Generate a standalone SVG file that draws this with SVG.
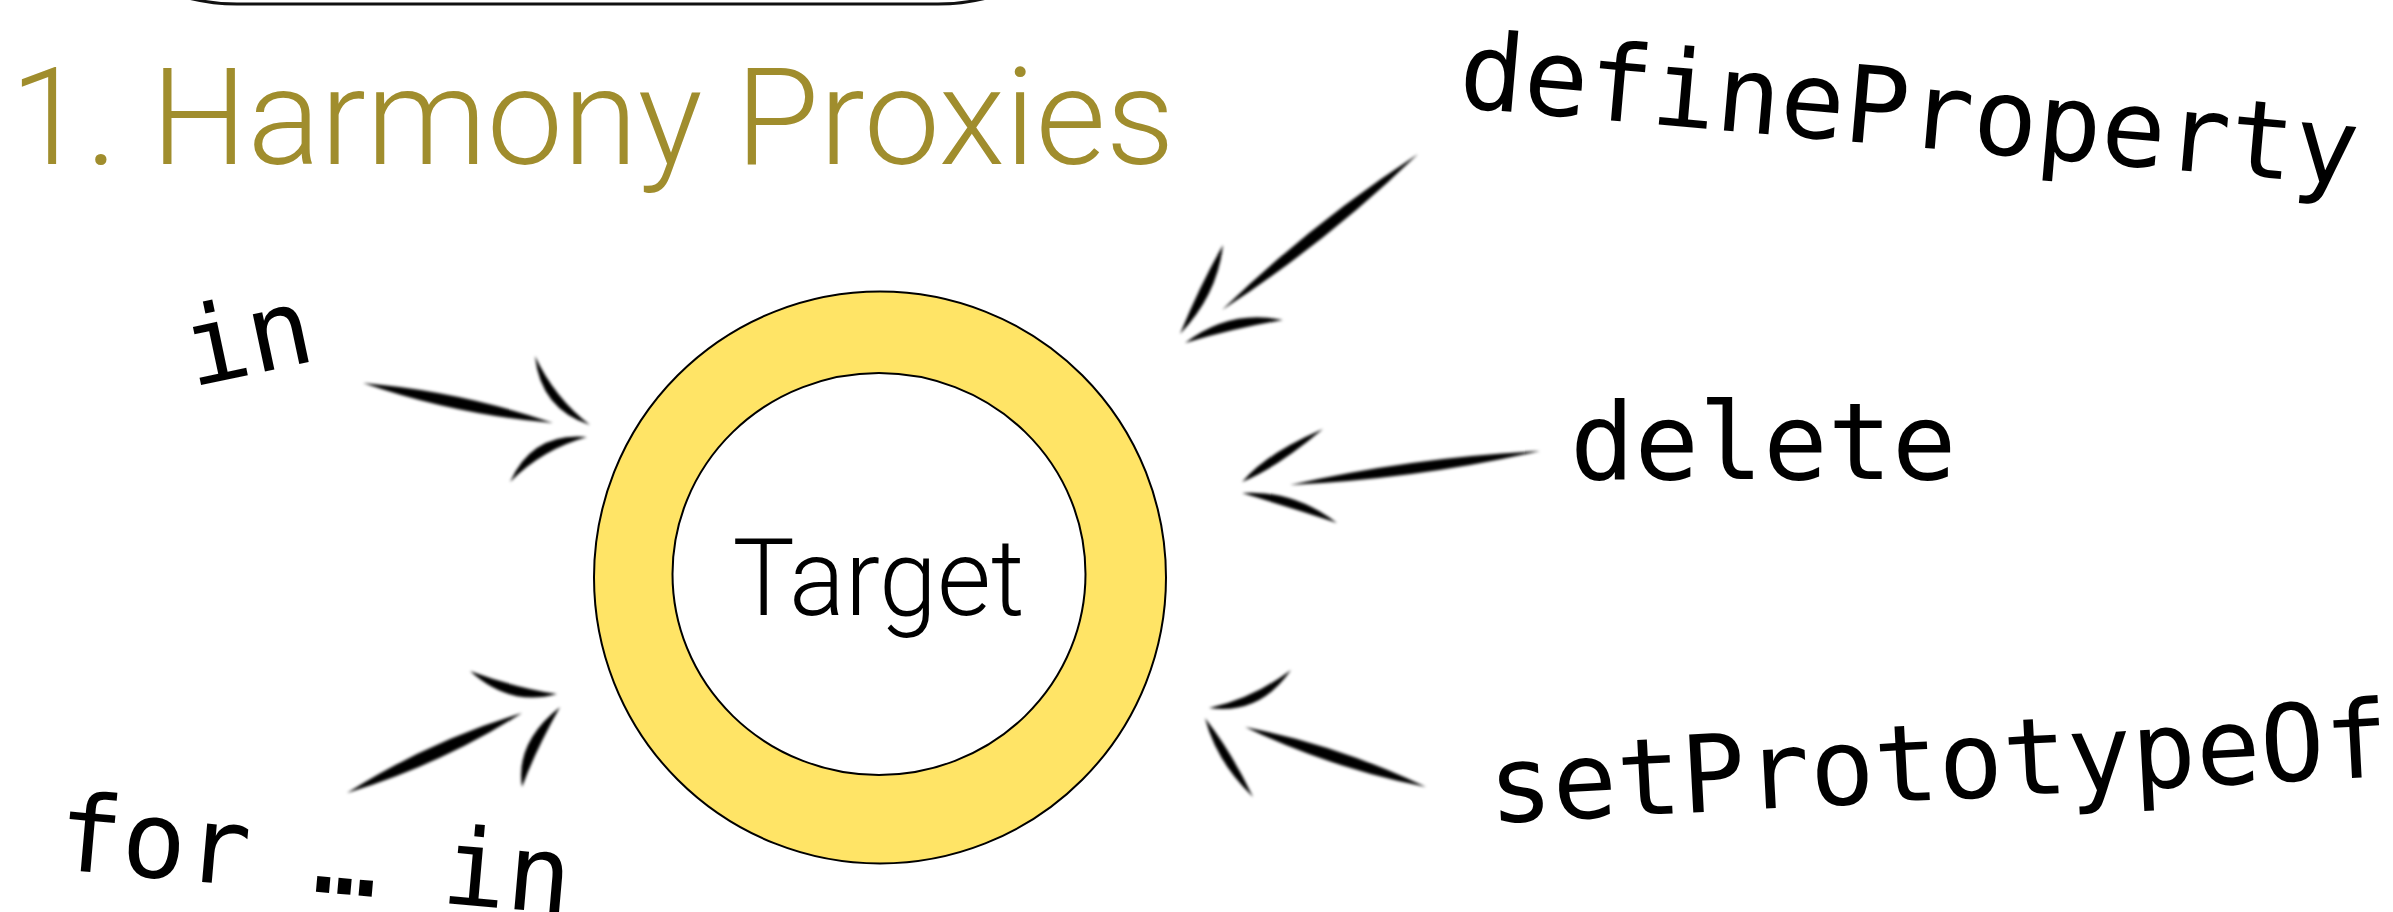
<svg xmlns="http://www.w3.org/2000/svg" width="2393" height="912" viewBox="0 0 2393 912">
  <style>
    .title { font-family: "Roboto", "Liberation Sans", sans-serif; font-weight: 300; fill: #A08D2D; }
    .sans { font-family: "Roboto", "Liberation Sans", sans-serif; font-weight: 300; fill: #000; }
    .code { font-family: "DejaVu Sans Mono", "Liberation Mono", monospace; fill: #000; font-size: 107px; }
    .brush { fill: #000; stroke: none; }
  </style>
  <defs>
    <filter id="soft" x="-20%" y="-20%" width="140%" height="140%">
      <feGaussianBlur stdDeviation="1.7"/>
    </filter>
  </defs>

  <rect width="2393" height="912" fill="#fff"/>

  <!-- bottom of the framing box above the heading -->
  <rect id="frame" x="37" y="-400" width="1101" height="404" rx="200" ry="200" fill="none" stroke="#111" stroke-width="3"/>

  <g id="title">
    <text class="title" x="10" y="164" font-size="136">1. Harmony Proxies</text>
  </g>

  <g id="target">
    <circle cx="880" cy="577.5" r="286" fill="#FFE466" stroke="#000" stroke-width="2"/>
    <ellipse cx="879" cy="574" rx="206.5" ry="201" fill="#fff" stroke="#000" stroke-width="2"/>
    <text class="sans" x="878.5" y="614.5" font-size="108" text-anchor="middle" textLength="292" lengthAdjust="spacingAndGlyphs">Target</text>
  </g>

  <g id="label-in">
    <text class="code" transform="translate(192 387) rotate(-12)">in</text>
  </g>
  <g id="label-for-in">
    <text class="code" transform="translate(55 869) rotate(5)" xml:space="preserve">for … in</text>
  </g>
  <g id="label-defineProperty">
    <text class="code" transform="translate(1457 107) rotate(5)">defineProperty</text>
  </g>
  <g id="label-delete">
    <text class="code" x="1570" y="479">delete</text>
  </g>
  <g id="label-setPrototypeOf">
    <text class="code" transform="translate(1490 823) rotate(-3)">setPrototypeOf</text>
  </g>

  <!-- hand-drawn brush arrows: each is a shaft plus two curved barbs -->
  <g id="connectors" filter="url(#soft)">
    <g id="arrow-in">
      <path class="brush" d="M363,383 Q455.5,414.7 553,423 Q460.5,391.3 363,383Z"/>
      <path class="brush" d="M535,356 Q540.5,409.1 590,425 Q554.5,397.9 535,356Z"/>
      <path class="brush" d="M587,437 Q532.5,431.9 510,482 Q542.5,449.1 587,437Z"/>
    </g>
    <g id="arrow-delete">
      <path class="brush" d="M1540,451 Q1413.5,457.1 1290,485 Q1416.5,478.9 1540,451Z"/>
      <path class="brush" d="M1323,429 Q1266.6,453 1242,482 Q1276.4,468 1323,429Z"/>
      <path class="brush" d="M1242,493 Q1287.8,506.6 1337,523 Q1293.2,489.4 1242,493Z"/>
    </g>
    <g id="arrow-defineProperty">
      <path class="brush" d="M1418,154 Q1312.5,222.6 1222,310 Q1327.5,241.4 1418,154Z"/>
      <path class="brush" d="M1223,245 Q1199.5,286.2 1180,334 Q1217.5,294.9 1223,245Z"/>
      <path class="brush" d="M1185,343 Q1234.3,328.2 1283,320 Q1229.7,308.8 1185,343Z"/>
    </g>
    <g id="arrow-for-in">
      <path class="brush" d="M347,793 Q439.9,764.8 522,713 Q429.1,741.2 347,793Z"/>
      <path class="brush" d="M470,671 Q509.9,707.2 557,694 Q515.1,687.8 470,671Z"/>
      <path class="brush" d="M560,707 Q515.1,742.3 522,787 Q534.9,751.7 560,707Z"/>
    </g>
    <g id="arrow-setPrototypeOf">
      <path class="brush" d="M1426,787 Q1339.3,745.6 1245,727 Q1331.7,768.4 1426,787Z"/>
      <path class="brush" d="M1291,670 Q1252.2,698.8 1209,708 Q1259.8,715.2 1291,670Z"/>
      <path class="brush" d="M1205,718 Q1216.3,761.7 1253,797 Q1231.7,752.3 1205,718Z"/>
    </g>
  </g>
</svg>
